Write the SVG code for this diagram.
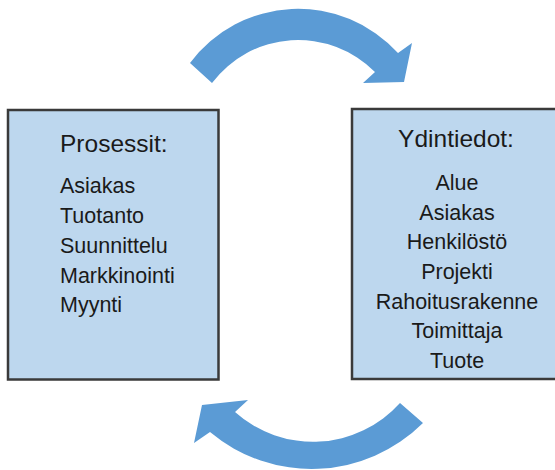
<svg xmlns="http://www.w3.org/2000/svg" width="555" height="470" viewBox="0 0 555 470">
  <style>
    .box { fill: #BDD7EE; stroke: #3a3a3a; stroke-width: 2.5; }
    .cycle { fill: #5B9BD5; }
    .title { font-family: "Liberation Sans", Arial, sans-serif; font-size: 24.5px; fill: #1a1a1a; }
    .item { font-family: "Liberation Sans", Arial, sans-serif; font-size: 21.5px; fill: #1a1a1a; }
  </style>
  <rect width="555" height="470" fill="#ffffff"/>

  <g id="connectors">
    <!-- upper curved arrow, left to right -->
    <path class="cycle" d="M190,63 A135,135 0 0 1 398,53 L412,43 L404,82 L363,83 L375,72 A108,108 0 0 0 212,83 Z"/>
    <!-- lower curved arrow, right to left -->
    <path class="cycle" d="M400,403 L423,423 A158,158 0 0 1 210,432 L194,443 L202,405 L248,400 L235,412 A117,117 0 0 0 400,403 Z"/>
  </g>

  <g id="prosessit">
    <rect class="box" x="8" y="110" width="210.5" height="269.5"/>
    <text class="title" x="60" y="152">Prosessit:</text>
    <text class="item" x="60" y="193">Asiakas</text>
    <text class="item" x="60" y="223">Tuotanto</text>
    <text class="item" x="60" y="253">Suunnittelu</text>
    <text class="item" x="60" y="283">Markkinointi</text>
    <text class="item" x="60" y="312">Myynti</text>
  </g>

  <g id="ydintiedot">
    <rect class="box" x="352" y="109" width="212" height="270"/>
    <g text-anchor="middle">
      <text class="title" x="456" y="147">Ydintiedot:</text>
      <text class="item" x="457" y="190">Alue</text>
      <text class="item" x="457" y="220">Asiakas</text>
      <text class="item" x="457" y="249">Henkilöstö</text>
      <text class="item" x="457" y="279">Projekti</text>
      <text class="item" x="457" y="309">Rahoitusrakenne</text>
      <text class="item" x="457" y="338">Toimittaja</text>
      <text class="item" x="457" y="368">Tuote</text>
    </g>
  </g>
</svg>
